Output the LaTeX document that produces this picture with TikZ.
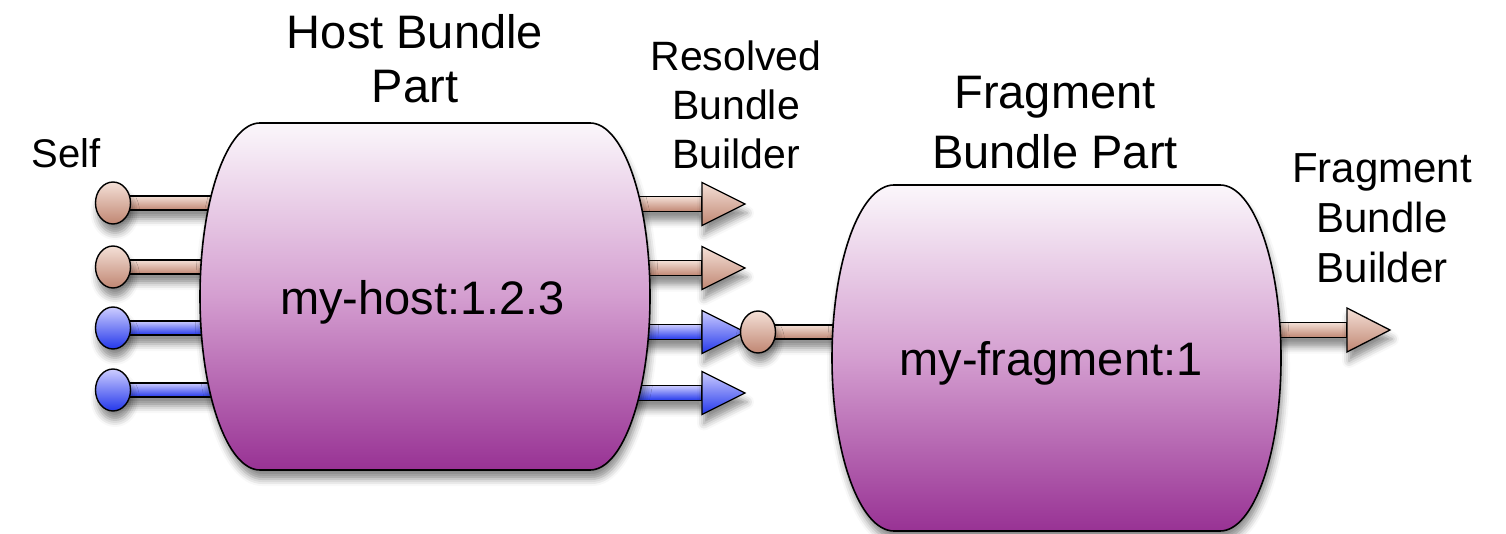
\documentclass[tikz,border=0pt]{standalone}
\usepackage{fontspec}
\setmainfont{Liberation Sans}
\usetikzlibrary{calc,shadows.blur}

\definecolor{boxtop}{RGB}{251,247,251}
\definecolor{boxmid}{RGB}{212,158,208}
\definecolor{boxbot}{RGB}{152,50,148}
\definecolor{tanlt}{RGB}{244,224,215}
\definecolor{tandk}{RGB}{192,134,114}
\definecolor{bluelt}{RGB}{205,205,255}
\definecolor{bluedk}{RGB}{35,55,235}

\tikzset{
  shadowed/.style={blur shadow={shadow xshift=2pt,shadow yshift=-9pt,shadow blur radius=7pt,shadow opacity=45}},
  partbox/.style={draw=black,line width=1.6pt,top color=boxtop,bottom color=boxbot,middle color=boxmid,shadowed},
  portbar/.style={draw=black,line width=1.3pt,top color=#1lt,bottom color=#1dk,shadowed},
  portball/.style={draw=black,line width=1.4pt,top color=#1lt,bottom color=#1dk,shadowed},
  porthead/.style={draw=black,line width=1.3pt,line join=miter,top color=#1lt,bottom color=#1dk,shadowed},
  title/.style={font=\fontsize{47}{54}\selectfont,align=center,inner sep=0pt,anchor=north},
  portlabel/.style={font=\fontsize{41}{49}\selectfont,align=center,inner sep=0pt,anchor=north},
  boxtext/.style={font=\fontsize{47}{54}\selectfont,inner sep=0pt,anchor=base},
}

\begin{document}
\begin{tikzpicture}[x=1pt,y=-1pt]
\useasboundingbox (0,0) rectangle (1506,534);

% ---------- host bundle part: input ports ----------
\foreach \i/\y/\c in {1/203/tan,2/267/tan,3/328/blue,4/390/blue}{
  \coordinate (hin\i) at (113,\y);
  \coordinate (hinE\i) at (240,\y);
  \path[portbar=\c] ($(hin\i)+(0,-7)$) rectangle ($(hinE\i)+(0,7)$);
  \path[portball=\c] (hin\i) ellipse [x radius=17.5,y radius=21];
}
% ---------- host bundle part: output bars (under the box) ----------
\foreach \i/\y/\c in {1/204/tan,2/268/tan,3/332/blue,4/393/blue}{
  \coordinate (houtS\i) at (615,\y);
  \coordinate (hout\i) at (702,\y);
  \path[portbar=\c] ($(houtS\i)+(0,-7.5)$) rectangle ($(hout\i)+(0,7.5)$);
}

% ---------- host box ----------
\path[partbox] (260,123) -- (590,123)
  arc[start angle=90,end angle=-90,x radius=60pt,y radius=173.5pt]
  -- (260,470)
  arc[start angle=-90,end angle=-270,x radius=60pt,y radius=173.5pt] -- cycle;
\node[boxtext] (hosttext) at (422.5,315) {my-host:1.2.3};

% ---------- host output heads ----------
\foreach \i/\c in {1/tan,2/tan,3/blue,4/blue}{
  \path[porthead=\c] ($(hout\i)+(0,-21.5)$) -- ($(hout\i)+(43,0)$) -- ($(hout\i)+(0,21.5)$) -- cycle;
}

% ---------- fragment input port ----------
\coordinate (fin) at (758,332);
\coordinate (finE) at (870,332);
\path[portbar=tan] ($(fin)+(0,-7)$) rectangle ($(finE)+(0,7)$);
\path[portball=tan] (fin) ellipse [x radius=17.5,y radius=21];

% ---------- fragment output bar ----------
\coordinate (foutS) at (1250,330);
\coordinate (fout) at (1347,330);
\path[portbar=tan] ($(foutS)+(0,-7.5)$) rectangle ($(fout)+(0,7.5)$);

% ---------- fragment box ----------
\path[partbox] (894,185) -- (1220,185)
  arc[start angle=90,end angle=-90,x radius=61pt,y radius=173pt]
  -- (894,531)
  arc[start angle=-90,end angle=-270,x radius=62pt,y radius=173pt] -- cycle;
\node[boxtext] (fragtext) at (1051,375) {my-fragment:1};

% ---------- fragment output head ----------
\path[porthead=tan] ($(fout)+(0,-22)$) -- ($(fout)+(43,0)$) -- ($(fout)+(0,22)$) -- cycle;

% ---------- labels ----------
\node[title] (hosttitle) at (415,14) {Host Bundle\\Part};
\node[title,font=\fontsize{47}{60}\selectfont] (fragtitle) at (1055,76) {Fragment\\Bundle Part};
\node[portlabel] (resolved) at (736,40.5) {Resolved\\Bundle\\Builder};
\node[portlabel,font=\fontsize{42}{50}\selectfont] (fragbuilder) at (1382,153) {Fragment\\Bundle\\Builder};
\node[boxtext,font=\fontsize{40}{48}\selectfont] (self) at (66,168) {Self};
\end{tikzpicture}
\end{document}
